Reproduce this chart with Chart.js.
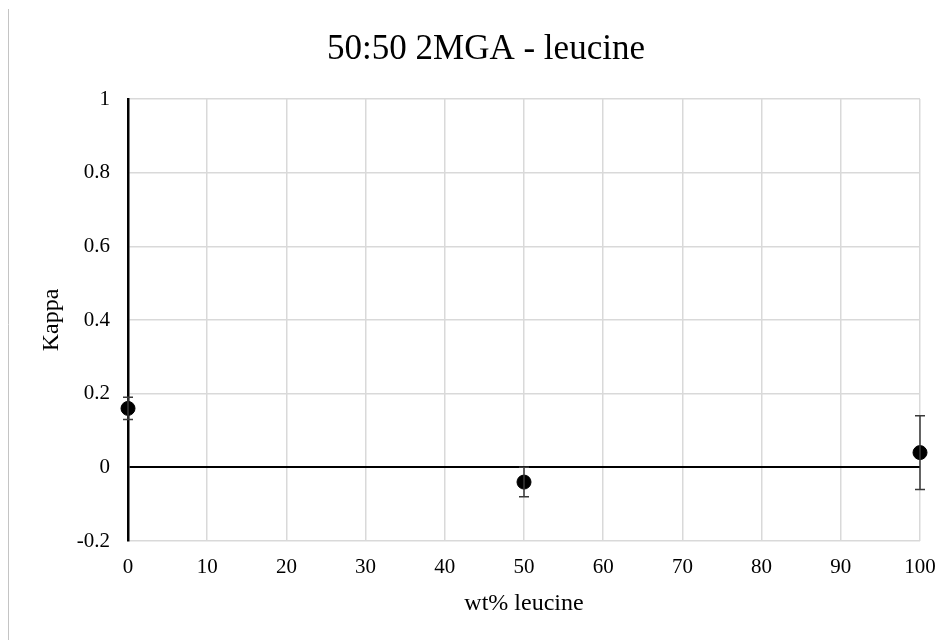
<!DOCTYPE html>
<html>
<head>
<meta charset="utf-8">
<script src="https://cdn.jsdelivr.net/npm/chart.js@4"></script>
<style>
  html, body { margin: 0; padding: 0; background: #fff; }
  #wrap { width: 951px; height: 640px; position: relative; }
</style>
</head>
<body>
<div id="wrap"><canvas id="kappaChart" width="951" height="640"></canvas></div>
<script>
// 50:50 2MGA - leucine, kappa vs wt% leucine

const chartTitle = '50:50 2MGA - leucine';
const leucinePct = [0, 50, 100];
const kappaValues = [0.16, -0.04, 0.04];
const kappaErrors = [0.03, 0.04, 0.10];

const xTicks = [0, 10, 20, 30, 40, 50, 60, 70, 80, 90, 100];
const yTicks = [-0.2, 0, 0.2, 0.4, 0.6, 0.8, 1];

const serif = 'Liberation Serif, Times New Roman, serif';

const points = leucinePct.map((x, i) => ({ x: x, y: kappaValues[i], err: kappaErrors[i] }));

// error bars with caps, page frame line and the title
const extras = {
    id: 'extras',
    beforeDraw(chart) {
        const ctx = chart.ctx;
        ctx.save();
        ctx.strokeStyle = '#c4c4c4';
        ctx.lineWidth = 1;
        ctx.beginPath();
        ctx.moveTo(8.5, 9); ctx.lineTo(8.5, 640);
        ctx.stroke();
        ctx.fillStyle = '#000';
        ctx.font = '35px ' + serif;
        ctx.textAlign = 'center';
        ctx.textBaseline = 'alphabetic';
        ctx.fillText(chartTitle, 486, 59);
        ctx.restore();
    },
    afterDatasetsDraw(chart) {
        const ctx = chart.ctx;
        const xs = chart.scales.x, ys = chart.scales.y;
        ctx.save();
        ctx.strokeStyle = '#3a3a3a';
        ctx.lineWidth = 1.5;
        points.forEach(p => {
            const px = xs.getPixelForValue(p.x);
            const top = ys.getPixelForValue(p.y + p.err);
            const bot = ys.getPixelForValue(p.y - p.err);
            ctx.beginPath();
            ctx.moveTo(px, top); ctx.lineTo(px, bot);
            ctx.moveTo(px - 5, top); ctx.lineTo(px + 5, top);
            ctx.moveTo(px - 5, bot); ctx.lineTo(px + 5, bot);
            ctx.stroke();
        });
        ctx.restore();
    }
};

new Chart(document.getElementById('kappaChart').getContext('2d'), {
    type: 'scatter',
    data: {
        datasets: [{
            data: points,
            backgroundColor: '#000',
            borderColor: '#000',
            pointRadius: 7,
            pointHoverRadius: 7,
            clip: false
        }]
    },
    options: {
        responsive: false,
        animation: false,
        layout: { padding: { top: 99, right: 31, left: 0, bottom: 0 } },
        plugins: {
            legend: { display: false },
            tooltip: { enabled: false },
            title: { display: false }
        },
        scales: {
            x: {
                type: 'linear',
                min: 0,
                max: 100,
                afterBuildTicks: axis => { axis.ticks = xTicks.map(v => ({ value: v })); },
                afterFit: axis => { axis.height = 99; },
                grid: { color: '#d9d9d9', lineWidth: 1.5, drawTicks: false },
                border: { display: false },
                ticks: { color: '#000', font: { family: serif, size: 21 }, padding: 14, maxRotation: 0 },
                title: {
                    display: true,
                    text: 'wt% leucine',
                    color: '#000',
                    font: { family: serif, size: 24 },
                    padding: { top: 22, bottom: 22 }
                }
            },
            y: {
                min: -0.2,
                max: 1,
                afterBuildTicks: axis => { axis.ticks = yTicks.map(v => ({ value: v })); },
                afterFit: axis => { axis.width = 128; },
                grid: {
                    color: c => (c.tick && Math.abs(c.tick.value) < 1e-9) ? '#000' : '#d9d9d9',
                    lineWidth: c => (c.tick && Math.abs(c.tick.value) < 1e-9) ? 2 : 1.5,
                    drawTicks: false
                },
                border: { display: true, color: '#000', width: 2.5 },
                ticks: {
                    color: '#000',
                    font: { family: serif, size: 21 },
                    padding: 18,
                    callback: v => String(Math.round(v * 10) / 10)
                },
                title: {
                    display: true,
                    text: 'Kappa',
                    color: '#000',
                    font: { family: serif, size: 24 },
                    padding: { top: 37, bottom: 37 }
                }
            }
        }
    },
    plugins: [extras]
});
</script>
</body>
</html>
